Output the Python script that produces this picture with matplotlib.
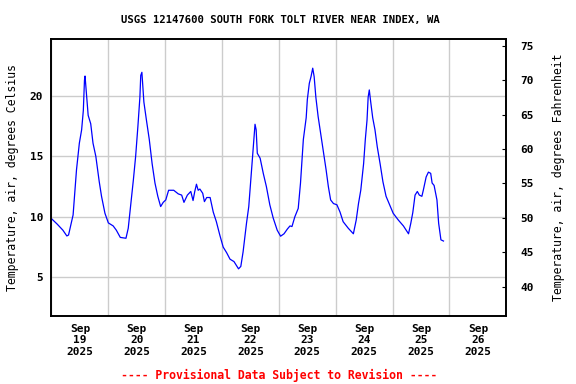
import numpy as np
import matplotlib
matplotlib.use('Agg')
import matplotlib.pyplot as plt

plt.rcParams['font.family'] = 'DejaVu Sans Mono'
plt.rcParams['font.weight'] = 'bold'

# Days since Sep 19 2025 00:00 and air temperature (deg C)
days = [0.0, 0.1, 0.2, 0.27, 0.3, 0.38, 0.44, 0.49, 0.53, 0.56, 0.58, 0.59, 0.62, 0.645,
        0.69, 0.73, 0.78, 0.84, 0.88, 0.94, 1.0, 1.085, 1.14, 1.21, 1.31, 1.35, 1.39,
        1.44, 1.48, 1.52, 1.555, 1.57, 1.59, 1.625, 1.67, 1.72, 1.77, 1.82, 1.87, 1.92,
        1.965, 2.01, 2.06, 2.15, 2.23, 2.29, 2.33, 2.39, 2.45, 2.49, 2.52, 2.55, 2.58,
        2.61, 2.66, 2.69, 2.73, 2.79, 2.845, 2.9, 2.96, 3.02, 3.08, 3.14, 3.21, 3.29,
        3.33, 3.37, 3.43, 3.47, 3.52, 3.56, 3.58, 3.6, 3.62, 3.67, 3.725, 3.78, 3.84,
        3.9, 3.97, 4.03, 4.09, 4.15, 4.195, 4.23, 4.28, 4.34, 4.38, 4.43, 4.48, 4.5,
        4.535, 4.565, 4.595, 4.62, 4.65, 4.69, 4.735, 4.78, 4.83, 4.87, 4.91, 4.96,
        5.02, 5.075, 5.13, 5.22, 5.31, 5.36, 5.4, 5.44, 5.49, 5.52, 5.55, 5.57, 5.59,
        5.615, 5.65, 5.69, 5.73, 5.78, 5.83, 5.885, 5.96, 6.01, 6.1, 6.19, 6.28, 6.32,
        6.355, 6.395, 6.435, 6.47, 6.515, 6.54, 6.59, 6.63, 6.67, 6.695, 6.73, 6.78,
        6.81, 6.85, 6.895]
temp_c = [9.85, 9.4, 8.9, 8.42, 8.5, 10.16, 13.9, 16.1, 17.2, 18.8, 21.3, 21.65, 19.9, 18.4,
          17.7, 16.1, 15.0, 12.9, 11.7, 10.3, 9.5, 9.25, 8.9, 8.3, 8.23, 9.06, 10.85,
          13.05, 15.0, 17.5, 19.9, 21.7, 21.96, 19.5, 18.0, 16.4, 14.4, 12.8, 11.7, 10.85,
          11.2, 11.4, 12.2, 12.2, 11.9, 11.8, 11.2, 11.8, 12.1, 11.35, 12.1, 12.7, 12.2,
          12.3, 11.95, 11.26, 11.6, 11.6, 10.4, 9.6, 8.5, 7.5, 7.04, 6.5, 6.3, 5.7,
          5.9, 7.1, 9.47, 10.85, 13.9, 16.4, 17.66, 17.2, 15.26, 14.85, 13.6, 12.5, 11.0,
          9.9, 8.9, 8.4, 8.6, 9.0, 9.25, 9.2, 10.0, 10.7, 12.8, 16.4, 18.2, 19.7,
          21.05, 21.6, 22.3, 21.6, 19.9, 18.3, 16.9, 15.5, 13.9, 12.5, 11.4, 11.1,
          11.0, 10.4, 9.6, 9.06, 8.6, 9.74, 11.1, 12.2, 14.4, 16.4, 18.0, 19.9, 20.5,
          19.5, 18.2, 17.2, 15.8, 14.4, 12.9, 11.7, 10.85, 10.3, 9.74, 9.25, 8.6, 9.47,
          10.35, 11.8, 12.1, 11.8, 11.7, 12.2, 13.3, 13.7, 13.6, 12.8, 12.6, 11.4,
          9.47, 8.1, 8.0]

tick_labels = ['Sep\n19\n2025', 'Sep\n20\n2025', 'Sep\n21\n2025', 'Sep\n22\n2025',
               'Sep\n23\n2025', 'Sep\n24\n2025', 'Sep\n25\n2025', 'Sep\n26\n2025']
c_ticks = [5, 10, 15, 20]
f_ticks = [40, 45, 50, 55, 60, 65, 70, 75]

fig = plt.figure(figsize=(5.76, 3.84), dpi=100)
ax = fig.add_axes([0.0894, 0.1776, 0.7896, 0.7201])

ax.plot(days, temp_c, color='#0000ff', linewidth=0.9)

ax.set_xlim(0, 8)
ax.set_ylim(1.815, 24.69)
ax.set_xticks(np.arange(0, 9), minor=False)
ax.set_xticks(np.arange(0.5, 8), minor=True)
ax.set_xticklabels([])
ax.set_xticklabels(tick_labels, minor=True, fontsize=8, linespacing=1.15)
ax.tick_params(axis='x', which='both', length=0, pad=6)
ax.set_yticks(c_ticks)
ax.tick_params(axis='y', length=0, labelsize=8, pad=6)
ax.grid(True, which='major', color='#cccccc', linewidth=1)
ax.set_axisbelow(True)
ax.set_ylabel('Temperature, air, degrees Celsius', fontsize=8.3, labelpad=8)

ax2 = ax.twinx()
ax2.set_ylim(35.75, 75.93)
ax2.set_yticks(f_ticks)
ax2.tick_params(axis='y', direction='in', length=3, labelsize=8, pad=10)
ax2.set_ylabel('Temperature, air, degrees Fahrenheit', fontsize=8.3, labelpad=13)

for a in (ax, ax2):
    for s in a.spines.values():
        s.set_linewidth(1.2)

fig.text(0.487, 0.947, 'USGS 12147600 SOUTH FORK TOLT RIVER NEAR INDEX, WA',
         ha='center', va='center', fontsize=7.7)
fig.text(0.484, 0.023, '---- Provisional Data Subject to Revision ----',
         ha='center', va='center', fontsize=8.3, color='#ff0000')

fig.savefig('out.png', dpi=100)
